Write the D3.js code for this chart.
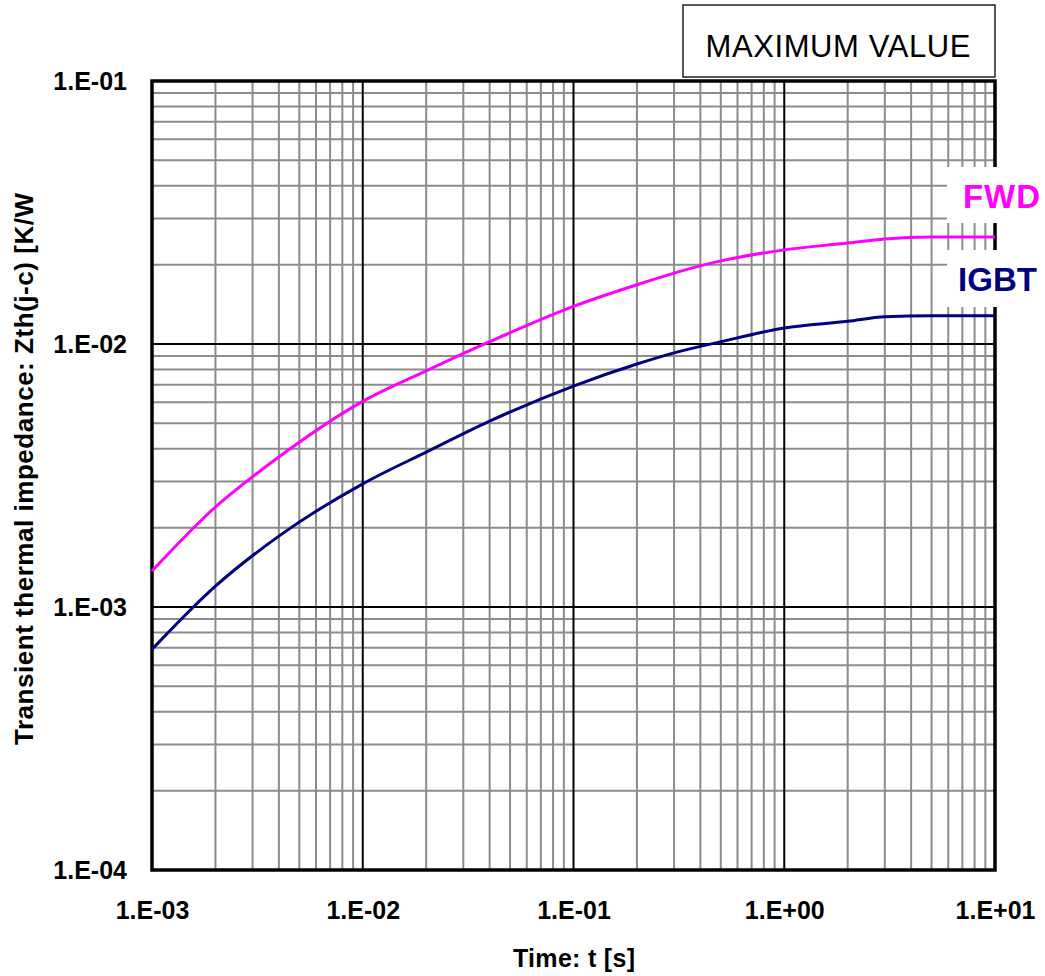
<!DOCTYPE html>
<html lang="en">
<head>
  <meta charset="utf-8">
  <title>Transient thermal impedance</title>
  <script src="https://d3js.org/d3.v7.min.js"></script>
  <style>
    body {
      margin: 0;
      background: #fff;
      font-family: Arial, 'Liberation Sans', sans-serif;
    }
    .grid-minor { stroke: #8c8c8c; stroke-width: 2px; }
    .grid-major { stroke: #000; stroke-width: 2px; }
    .curve { fill: none; stroke-width: 3px; }
    .tick text { font-weight: bold; font-size: 25px; fill: #000; }
  </style>
</head>
<body>
<div id="chart"></div>
<script>
  // data
  var times = [0.001, 0.002, 0.004, 0.01, 0.02, 0.04, 0.1, 0.2, 0.3, 0.5, 1, 2, 3, 5, 10];
  var fwd   = [1.37e-3, 2.40e-3, 3.72e-3, 6.05e-3, 7.9e-3, 1.02e-2, 1.39e-2, 1.68e-2, 1.86e-2, 2.07e-2, 2.28e-2, 2.42e-2, 2.51e-2, 2.55e-2, 2.55e-2];
  var igbt  = [6.9e-4, 1.20e-3, 1.86e-3, 2.94e-3, 3.88e-3, 5.09e-3, 6.92e-3, 8.39e-3, 9.25e-3, 1.02e-2, 1.15e-2, 1.22e-2, 1.27e-2, 1.28e-2, 1.28e-2];

  var xTicks = [1e-3, 1e-2, 1e-1, 1e0, 1e1];
  var xTickLabels = ["1.E-03", "1.E-02", "1.E-01", "1.E+00", "1.E+01"];
  var yTicks = [1e-4, 1e-3, 1e-2, 1e-1];
  var yTickLabels = ["1.E-04", "1.E-03", "1.E-02", "1.E-01"];

  var W = 1045, H = 976;
  var plot = {left: 152, right: 995, top: 81, bottom: 870};

  var svg = d3.select("#chart")
    .append("svg")
    .attr("width", W)
    .attr("height", H);

  var x = d3.scaleLog().domain([1e-3, 10]).range([plot.left, plot.right]);
  var y = d3.scaleLog().domain([1e-4, 1e-1]).range([plot.bottom, plot.top]);

  function isMajor(v) {
    var l = Math.log10(v);
    return Math.abs(l - Math.round(l)) < 1e-9;
  }

  // grid lines, minor first then decades on top
  var xg = x.ticks();
  var yg = y.ticks();
  var grid = svg.append("g");
  grid.selectAll(".vx").data(xg.filter(d => !isMajor(d))).enter().append("line")
    .attr("class", "grid-minor")
    .attr("x1", d => x(d)).attr("x2", d => x(d))
    .attr("y1", plot.top).attr("y2", plot.bottom);
  grid.selectAll(".hy").data(yg.filter(d => !isMajor(d))).enter().append("line")
    .attr("class", "grid-minor")
    .attr("y1", d => y(d)).attr("y2", d => y(d))
    .attr("x1", plot.left).attr("x2", plot.right);
  grid.selectAll(".vxm").data(xg.filter(isMajor)).enter().append("line")
    .attr("class", "grid-major")
    .attr("x1", d => x(d)).attr("x2", d => x(d))
    .attr("y1", plot.top).attr("y2", plot.bottom);
  grid.selectAll(".hym").data(yg.filter(isMajor)).enter().append("line")
    .attr("class", "grid-major")
    .attr("y1", d => y(d)).attr("y2", d => y(d))
    .attr("x1", plot.left).attr("x2", plot.right);

  // plot border
  svg.append("rect")
    .attr("x", plot.left).attr("y", plot.top)
    .attr("width", plot.right - plot.left).attr("height", plot.bottom - plot.top)
    .attr("fill", "none").attr("stroke", "#000").attr("stroke-width", 3.5);

  // curves
  var line = d3.line()
    .x((d, i) => x(times[i]))
    .y(d => y(d))
    .curve(d3.curveMonotoneX);

  svg.append("path").datum(fwd)
    .attr("class", "curve").attr("stroke", "#ff00ff").attr("d", line);
  svg.append("path").datum(igbt)
    .attr("class", "curve").attr("stroke", "#000080").attr("d", line);

  // axes (labels only)
  var xAxis = svg.append("g")
    .attr("transform", "translate(0," + plot.bottom + ")")
    .call(d3.axisBottom(x).tickValues(xTicks).tickFormat((d, i) => xTickLabels[i]).tickSize(0).tickPadding(31));
  xAxis.select(".domain").remove();

  var yAxis = svg.append("g")
    .attr("transform", "translate(" + plot.left + ",0)")
    .call(d3.axisLeft(y).tickValues(yTicks).tickFormat((d, i) => yTickLabels[i]).tickSize(0).tickPadding(25));
  yAxis.select(".domain").remove();

  // axis titles
  svg.append("text")
    .attr("x", 574).attr("y", 967)
    .attr("text-anchor", "middle")
    .style("font-weight", "bold").style("font-size", "25px")
    .attr("textLength", 122).attr("lengthAdjust", "spacing")
    .text("Time: t [s]");

  svg.append("text")
    .attr("transform", "translate(33,745) rotate(-90)")
    .style("font-weight", "bold").style("font-size", "26px")
    .attr("textLength", 552).attr("lengthAdjust", "spacing")
    .text("Transient thermal impedance: Zth(j-c) [K/W");

  // "MAXIMUM VALUE" box
  svg.append("rect")
    .attr("x", 683).attr("y", 5).attr("width", 312).attr("height", 72)
    .attr("fill", "#fff").attr("stroke", "#222").attr("stroke-width", 1.5);
  svg.append("text")
    .attr("x", 838).attr("y", 57)
    .attr("text-anchor", "middle")
    .style("font-size", "31px")
    .attr("textLength", 265).attr("lengthAdjust", "spacing")
    .text("MAXIMUM VALUE");

  // series labels with white backgrounds over the grid
  svg.append("rect").attr("x", 947).attr("y", 167).attr("width", 98).attr("height", 56).attr("fill", "#fff");
  svg.append("rect").attr("x", 947).attr("y", 250).attr("width", 98).attr("height", 57).attr("fill", "#fff");

  svg.append("text")
    .attr("x", 963).attr("y", 208)
    .style("font-weight", "bold").style("font-size", "33px").style("fill", "#ff00ff")
    .attr("textLength", 77).attr("lengthAdjust", "spacing")
    .text("FWD");
  svg.append("text")
    .attr("x", 958).attr("y", 291)
    .style("font-weight", "bold").style("font-size", "33px").style("fill", "#000080")
    .attr("textLength", 79).attr("lengthAdjust", "spacing")
    .text("IGBT");
</script>
</body>
</html>
